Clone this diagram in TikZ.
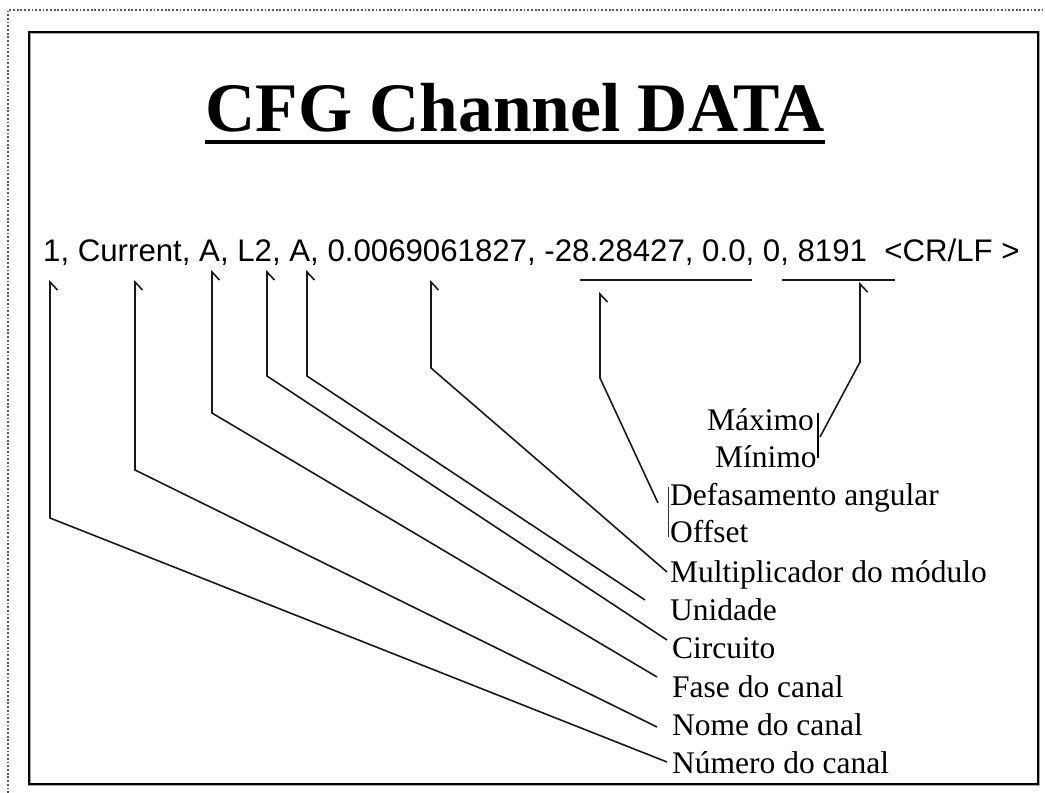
\documentclass[tikz,border=0pt]{standalone}
\usepackage{fontspec}
\setmainfont{Liberation Serif}
\newfontfamily\datafont{Liberation Sans}
\usetikzlibrary{arrows.meta}
\tikzset{
  conn/.style={line width=1.6pt, black!90, line join=miter,
    -{Straight Barb[harpoon,swap,length=8pt,width=15pt,line width=1.6pt]}},
  lbl/.style={anchor=base west, inner sep=0pt, font=\fontsize{31.5}{31.5}\selectfont},
  uline/.style={line width=2pt, black!90},
  brk/.style={line width=0.7pt, black!80},
}
\begin{document}
\begin{tikzpicture}[x=1pt,y=-1pt]
\useasboundingbox (0,0) rectangle (1045,793);
% outer dotted border
\draw[black!65, line width=1.8pt, dash pattern=on 1.8pt off 1.9pt] (8,793) -- (8,10) -- (1045,10);
% frame
\draw[black!35, line width=3pt] (29,32) rectangle (1038,784);
\draw[black, line width=1.7pt] (29,32) rectangle (1038,784);
% title
\node[anchor=base, inner sep=0pt, font=\fontsize{69.5}{69.5}\selectfont\bfseries] (title) at (515,131) {CFG Channel DATA};
\draw[line width=4pt] ([yshift=-11pt]title.base west) -- ([yshift=-11pt]title.base east);
% data line
\node[anchor=base west, inner sep=0pt, font=\datafont\fontsize{31.2}{31.2}\selectfont] (data) at (43,261) {1, Current, A, L2, A, 0.0069061827, -28.28427, 0.0, 0, 8191\ \ <CR/LF >};
% underlines
\draw[uline] (580,280) -- (752,280);
\draw[uline] (782,280) -- (895,280);
% labels
\node[lbl] (max) at (707,430) {Máximo};
\node[lbl] (min) at (715,467) {Mínimo};
\node[lbl] (def) at (670,505) {Defasamento angular};
\node[lbl] (off) at (670,542) {Offset};
\node[lbl] (mul) at (670,582) {Multiplicador do módulo};
\node[lbl] (uni) at (670,620) {Unidade};
\node[lbl] (cir) at (672,658) {Circuito};
\node[lbl] (fas) at (672,697) {Fase do canal};
\node[lbl] (nom) at (672,735) {Nome do canal};
\node[lbl] (num) at (672,773) {Número do canal};
% brackets
\draw[brk] (668,487) -- (668,537);
\draw[line width=1.2pt] (818,413) -- (818,458);
% label ends, corners and arrow tips
\coordinate (e1) at (667,762); \coordinate (c1) at (50,518);  \coordinate (t1) at (50,280);
\coordinate (e2) at (657,727); \coordinate (c2) at (135,470); \coordinate (t2) at (135,280);
\coordinate (e3) at (657,677); \coordinate (c3) at (212,413); \coordinate (t3) at (212,270);
\coordinate (e4) at (667,640); \coordinate (c4) at (267,376); \coordinate (t4) at (267,270);
\coordinate (e5) at (645,600); \coordinate (c5) at (307,376); \coordinate (t5) at (307,270);
\coordinate (e6) at (667,572); \coordinate (c6) at (431,368); \coordinate (t6) at (431,280);
\coordinate (e7) at (658,503); \coordinate (c7) at (600,378); \coordinate (t7) at (600,292);
\coordinate (e8) at (820,437); \coordinate (c8) at (860,362); \coordinate (t8) at (860,282);
% connectors
\draw[conn] (e1) -- (c1) -- (t1);
\draw[conn] (e2) -- (c2) -- (t2);
\draw[conn] (e3) -- (c3) -- (t3);
\draw[conn] (e4) -- (c4) -- (t4);
\draw[conn] (e5) -- (c5) -- (t5);
\draw[conn] (e6) -- (c6) -- (t6);
\draw[conn] (e7) -- (c7) -- (t7);
\draw[conn] (e8) -- (c8) -- (t8);
\end{tikzpicture}
\end{document}
